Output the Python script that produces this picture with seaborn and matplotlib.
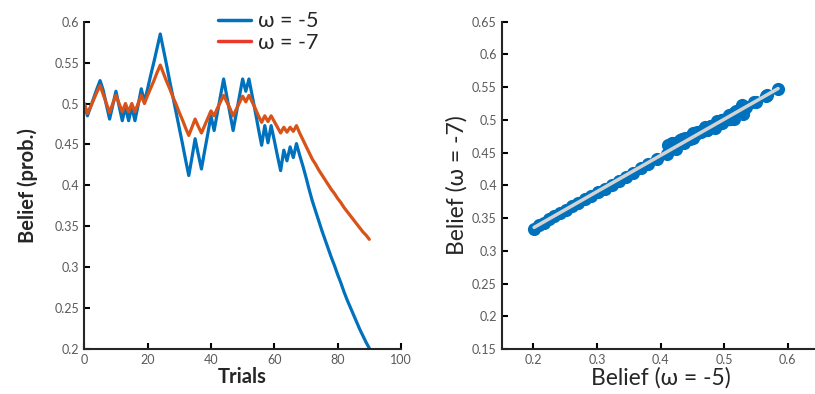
import numpy as np
import pandas as pd
import seaborn as sns
import matplotlib.pyplot as plt
from matplotlib.lines import Line2D

# Data

trials = np.arange(0, 91)

belief_w5 = [0.500, 0.485, 0.496, 0.507, 0.518, 0.528, 0.516, 0.498, 0.481, 0.498,
             0.515, 0.497, 0.479, 0.496, 0.479, 0.496, 0.479, 0.498, 0.518, 0.502,
             0.518, 0.535, 0.551, 0.568, 0.585, 0.566, 0.547, 0.527, 0.508, 0.489,
             0.470, 0.451, 0.431, 0.412, 0.434, 0.457, 0.438, 0.420, 0.442, 0.463,
             0.485, 0.467, 0.488, 0.509, 0.530, 0.509, 0.488, 0.467, 0.488, 0.509,
             0.530, 0.515, 0.530, 0.510, 0.490, 0.469, 0.449, 0.473, 0.452, 0.473,
             0.455, 0.436, 0.418, 0.443, 0.430, 0.447, 0.434, 0.451, 0.437, 0.424,
             0.410, 0.395, 0.381, 0.369, 0.357, 0.345, 0.334, 0.323, 0.312, 0.302,
             0.291, 0.281, 0.270, 0.260, 0.251, 0.242, 0.233, 0.224, 0.216, 0.208,
             0.201]

belief_w7 = [0.500, 0.488, 0.496, 0.505, 0.514, 0.522, 0.511, 0.500, 0.489, 0.500,
             0.510, 0.500, 0.490, 0.500, 0.490, 0.500, 0.490, 0.500, 0.510, 0.500,
             0.510, 0.519, 0.528, 0.538, 0.547, 0.537, 0.527, 0.518, 0.508, 0.499,
             0.489, 0.480, 0.470, 0.461, 0.471, 0.481, 0.472, 0.464, 0.473, 0.482,
             0.491, 0.485, 0.494, 0.502, 0.510, 0.502, 0.494, 0.485, 0.493, 0.501,
             0.509, 0.502, 0.510, 0.502, 0.494, 0.485, 0.477, 0.485, 0.478, 0.485,
             0.478, 0.471, 0.464, 0.471, 0.465, 0.471, 0.466, 0.473, 0.464, 0.456,
             0.448, 0.440, 0.432, 0.426, 0.419, 0.413, 0.407, 0.401, 0.395, 0.390,
             0.384, 0.379, 0.373, 0.368, 0.363, 0.358, 0.353, 0.348, 0.343, 0.339,
             0.334]

labels = ['\u03c9 = -5', '\u03c9 = -7']
col_w5 = '#0072BD'
col_w7 = '#D95319'

df = pd.DataFrame({'Trial': trials, 'w5': belief_w5, 'w7': belief_w7})

# Style

sns.set_style('ticks')
plt.rcParams['font.family'] = ['Lato', 'DejaVu Sans']
plt.rcParams['axes.linewidth'] = 1.5
plt.rcParams['xtick.direction'] = 'in'
plt.rcParams['ytick.direction'] = 'in'
plt.rcParams['xtick.major.size'] = 4
plt.rcParams['ytick.major.size'] = 4
plt.rcParams['xtick.major.width'] = 1.5
plt.rcParams['ytick.major.width'] = 1.5
plt.rcParams['xtick.labelsize'] = 9
plt.rcParams['ytick.labelsize'] = 9
plt.rcParams['xtick.color'] = 'black'
plt.rcParams['ytick.color'] = 'black'
plt.rcParams['xtick.labelcolor'] = '#5a5a5a'
plt.rcParams['ytick.labelcolor'] = '#5a5a5a'

fig = plt.figure(figsize=(8.15, 3.94), dpi=100)
ax1 = fig.add_axes([0.1034, 0.1142, 0.3886, 0.8307])
ax2 = fig.add_axes([0.6156, 0.1142, 0.3898, 0.8307])

# Left: belief over trials

sns.lineplot(data=df, x='Trial', y='w5', color=col_w5, lw=2.3, ax=ax1)
sns.lineplot(data=df, x='Trial', y='w7', color=col_w7, lw=2.3, ax=ax1)
ax1.set_xlim(0, 100)
ax1.set_ylim(0.2, 0.6)
ax1.set_xticks(np.arange(0, 101, 20))
ax1.set_yticks(np.arange(0.2, 0.601, 0.05))
ax1.set_yticklabels(['{:g}'.format(round(v, 2)) for v in np.arange(0.2, 0.601, 0.05)])
ax1.set_xlabel('Trials', fontsize=14.5, fontweight='bold', labelpad=1)
ax1.set_ylabel('Belief (prob.)', fontsize=14.5, fontweight='bold', labelpad=12)
sns.despine(ax=ax1)

handles = [Line2D([], [], color=col_w5, lw=2.5), Line2D([], [], color='#E8392A', lw=2.5)]
fig.legend(handles, labels, loc='center left', bbox_to_anchor=(218 / 815, 1 - 32 / 394),
           frameon=False, fontsize=15.5, handlelength=1.55, handletextpad=0.3,
           labelspacing=0.08, borderpad=0, borderaxespad=0)

# Right: w=-5 vs w=-7

sns.regplot(data=df, x='w5', y='w7', ci=None, ax=ax2,
            scatter_kws={'s': 90, 'color': col_w5, 'alpha': 1, 'linewidths': 0},
            line_kws={'color': '#d3d3d3', 'lw': 2.5})
ax2.set_xlim(0.15, 0.65)
ax2.set_ylim(0.15, 0.65)
ax2.set_xticks(np.arange(0.2, 0.61, 0.1))
ax2.set_xticklabels(['{:g}'.format(round(v, 1)) for v in np.arange(0.2, 0.61, 0.1)])
ax2.set_yticks(np.arange(0.15, 0.651, 0.05))
ax2.set_yticklabels(['{:g}'.format(round(v, 2)) for v in np.arange(0.15, 0.651, 0.05)])
ax2.set_xlabel('Belief (\u03c9 = -5)', fontsize=16.5, labelpad=1)
ax2.set_ylabel('Belief (\u03c9 = -7)', fontsize=16.5, labelpad=3)
sns.despine(ax=ax2)

plt.savefig('out.png', dpi=100)
